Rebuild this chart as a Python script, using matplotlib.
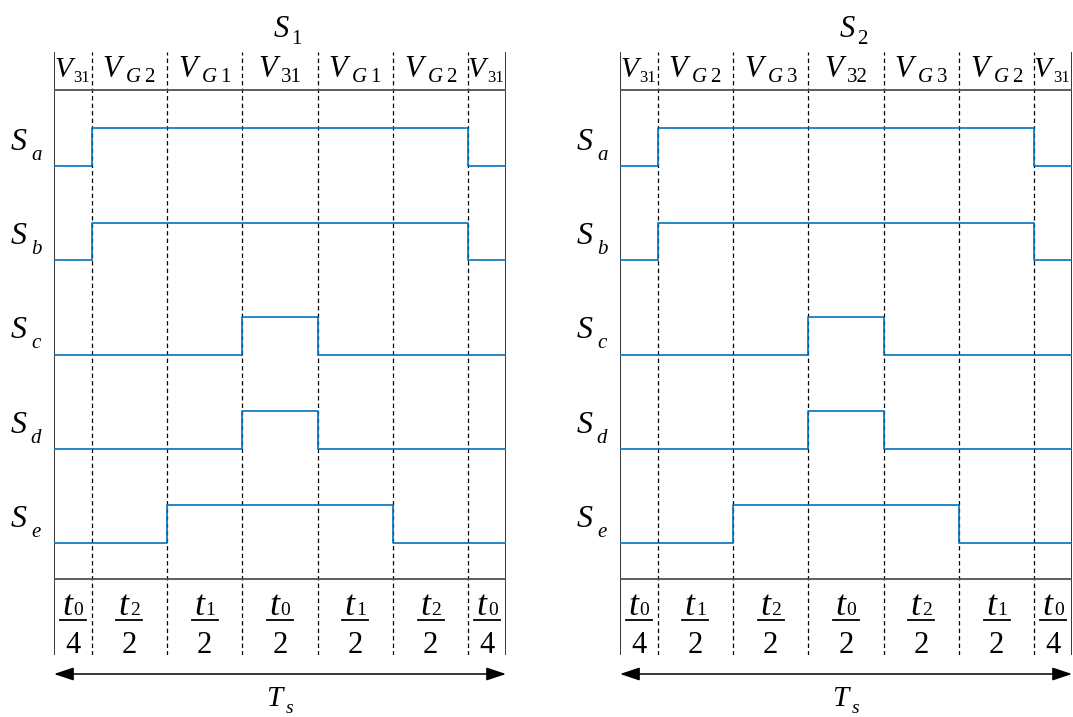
import numpy as np
import matplotlib.pyplot as plt
from matplotlib.transforms import offset_copy

plt.rcParams['font.family'] = 'Liberation Serif'
plt.rcParams['mathtext.fontset'] = 'custom'
plt.rcParams['mathtext.rm'] = 'Liberation Serif'
plt.rcParams['mathtext.it'] = 'Liberation Serif:italic'

# schematic segment lengths: t0/4, then six half-intervals, then t0/4
durations = [0.5, 1, 1, 1, 1, 1, 0.5]
signal_names = ['a', 'b', 'c', 'd', 'e']

# panel S1
s1_vectors = ['31', '$G\\;2$', '$G\\;1$', '31', '$G\\;1$', '$G\\;2$', '31']
s1_num = ['0', '2', '1', '0', '1', '2', '0']
s1_den = ['4', '2', '2', '2', '2', '2', '4']
s1_sa = [0, 1, 1, 1, 1, 1, 0]
s1_sb = [0, 1, 1, 1, 1, 1, 0]
s1_sc = [0, 0, 0, 1, 0, 0, 0]
s1_sd = [0, 0, 0, 1, 0, 0, 0]
s1_se = [0, 0, 1, 1, 1, 0, 0]

# panel S2
s2_vectors = ['31', '$G\\;2$', '$G\\;3$', '32', '$G\\;3$', '$G\\;2$', '31']
s2_num = ['0', '1', '2', '0', '2', '1', '0']
s2_den = ['4', '2', '2', '2', '2', '2', '4']
s2_sa = [0, 1, 1, 1, 1, 1, 0]
s2_sb = [0, 1, 1, 1, 1, 1, 0]
s2_sc = [0, 0, 0, 1, 0, 0, 0]
s2_sd = [0, 0, 0, 1, 0, 0, 0]
s2_se = [0, 0, 1, 1, 1, 0, 0]

BLUE = '#0072BD'
STEP = 0.4  # height of a high level, in row units


def ypx(p):
    # pixel row of the picture -> row units of the panels
    return (p - 166) / 94.25


def sub_label(ax, x, y, main, sub, size, sub_size, gap, drop, align='center'):
    # big italic letter with a smaller subscript set beside it
    fig = ax.figure
    r = fig.canvas.get_renderer()
    t1 = ax.text(x, y, main, fontsize=size, fontstyle='italic',
                 ha='left', va='baseline', clip_on=False)
    t2 = ax.text(x, y, sub, fontsize=sub_size, ha='left', va='baseline',
                 clip_on=False)
    w1 = t1.get_window_extent(r).width
    w2 = t2.get_window_extent(r).width
    start = -(w1 + gap + w2) / 2 if align == 'center' else 0
    t1.set_transform(offset_copy(ax.transData, fig=fig, x=start, y=0, units='dots'))
    t2.set_transform(offset_copy(ax.transData, fig=fig, x=start + w1 + gap,
                                 y=-drop, units='dots'))


def draw_panel(ax, title, vectors, num, den, states):
    edges = np.concatenate([[0], np.cumsum(durations)])
    centers = (edges[:-1] + edges[1:]) / 2
    total = edges[-1]
    ax.set_xlim(0, total)
    ax.set_ylim(ypx(655), ypx(52))
    ax.axis('off')

    # frame and segment boundaries
    ax.axvline(0, color='black', lw=1.1)
    ax.axvline(total, color='black', lw=1.1)
    for x in edges[1:-1]:
        ax.axvline(x, color='black', lw=0.9, ls=(0, (3.5, 2.5)))
    ax.axhline(ypx(90), color='#505050', lw=1.3)
    ax.axhline(ypx(579), color='#505050', lw=1.3)

    # switching signals
    for row, (name, st) in enumerate(zip(signal_names, states)):
        y = row - STEP * np.array(st + [st[-1]])
        ax.step(edges, y, where='post', color=BLUE, lw=1.2)
        sub_label(ax, -0.365, row + ypx(150), 'S', f'${name}$',
                  23, 15, 4, 10)

    # vector labels and durations
    last = len(centers) - 1
    for i, c in enumerate(centers):
        if i == 0:
            sub_label(ax, 0.01, ypx(77), 'V', vectors[i], 21, 12, 1, 5,
                      align='left')
        elif i == last:
            sub_label(ax, edges[-2] - 0.005, ypx(77), 'V', vectors[i], 21, 12,
                      1, 5, align='left')
        else:
            sub_label(ax, c, ypx(77), 'V', vectors[i], 22, 15, 4, 5)
        sub_label(ax, c, ypx(615), 't', num[i], 26, 14, 1, 0)
        ax.plot([c - 0.172, c + 0.172], [ypx(620), ypx(620)],
                color='black', lw=1.3)
        ax.text(c, ypx(653), den[i], fontsize=22, ha='center', va='baseline')

    sub_label(ax, total / 2 + 0.1, ypx(37), 'S', title, 22, 15, 3, 7)
    ax.annotate('', xy=(0, ypx(674)), xytext=(total, ypx(674)),
                arrowprops=dict(arrowstyle='<|-|>,head_length=1.2,head_width=0.4',
                                color='black', lw=1.1, shrinkA=0, shrinkB=0),
                annotation_clip=False)
    sub_label(ax, total / 2, ypx(706), 'T', '$s$', 21, 14, 3, 7)


W, H = 1073, 717
fig = plt.figure(figsize=(W / 100, H / 100), dpi=100)
ax1 = fig.add_axes([54 / W, 62 / H, 452 / W, 603 / H])
ax2 = fig.add_axes([620 / W, 62 / H, 452 / W, 603 / H])

draw_panel(ax1, '1', s1_vectors, s1_num, s1_den,
           [s1_sa, s1_sb, s1_sc, s1_sd, s1_se])
draw_panel(ax2, '2', s2_vectors, s2_num, s2_den,
           [s2_sa, s2_sb, s2_sc, s2_sd, s2_se])

fig.savefig('out.png', dpi=100)
